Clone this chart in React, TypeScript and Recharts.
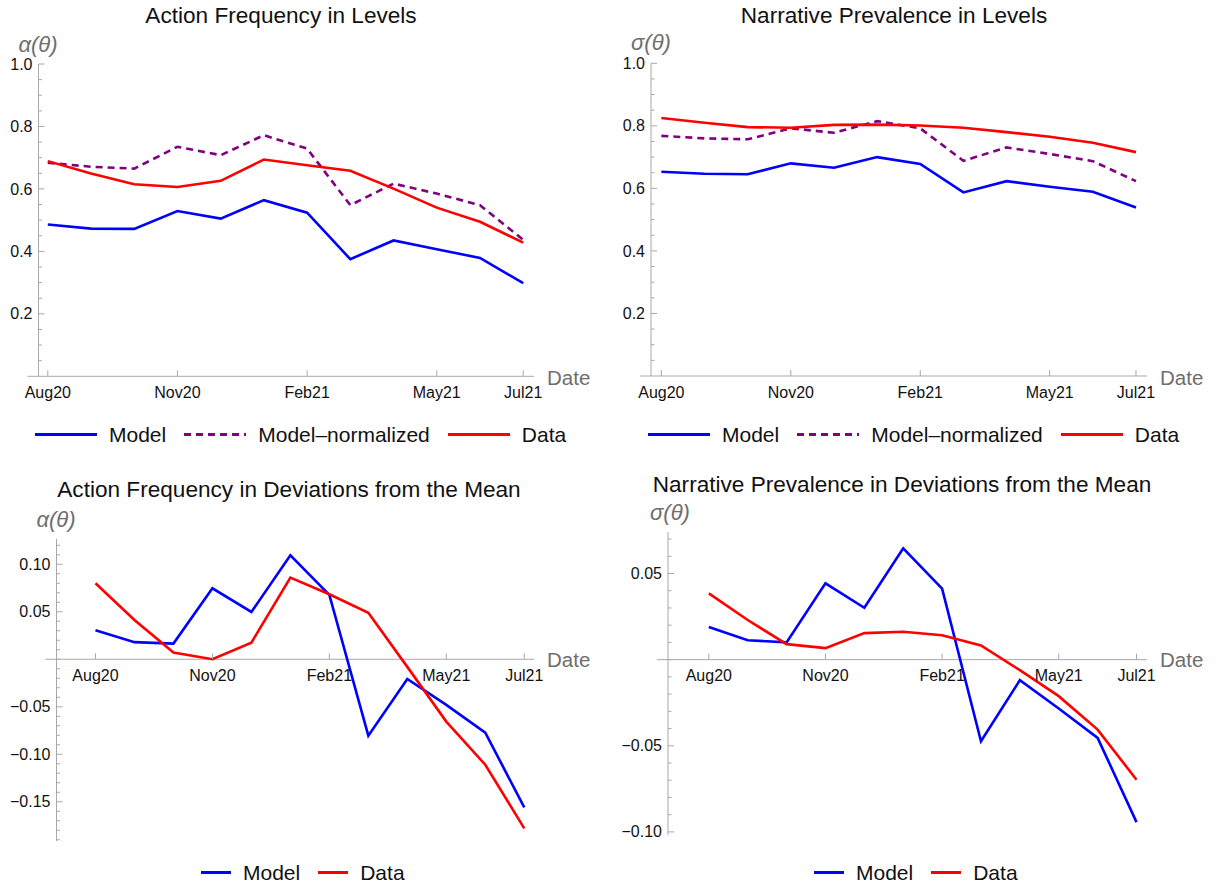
import React from 'react';
import { LineChart, Line, XAxis, YAxis, ReferenceLine, ReferenceDot } from 'recharts';

// monthly observations, Aug 2020 .. Jul 2021
const months = ['Aug20', 'Sep20', 'Oct20', 'Nov20', 'Dec20', 'Jan21', 'Feb21', 'Mar21', 'Apr21', 'May21', 'Jun21', 'Jul21'];
const dateTicks = [0, 3, 6, 9, 11];
const dateTickLabels = ['Aug20', 'Nov20', 'Feb21', 'May21', 'Jul21'];

// action frequency, levels
const actionModel = [0.486, 0.473, 0.472, 0.529, 0.505, 0.564, 0.524, 0.375, 0.435, 0.407, 0.379, 0.298];
const actionNormalized = [0.684, 0.671, 0.665, 0.735, 0.708, 0.772, 0.729, 0.548, 0.617, 0.585, 0.548, 0.437];
const actionData = [0.689, 0.649, 0.615, 0.606, 0.626, 0.694, 0.676, 0.658, 0.601, 0.540, 0.495, 0.428];

// narrative prevalence, levels
const narrativeModel = [0.653, 0.647, 0.645, 0.680, 0.666, 0.700, 0.678, 0.587, 0.623, 0.605, 0.589, 0.539];
const narrativeNormalized = [0.768, 0.760, 0.757, 0.792, 0.778, 0.815, 0.792, 0.688, 0.731, 0.710, 0.687, 0.623];
const narrativeData = [0.825, 0.810, 0.796, 0.794, 0.803, 0.804, 0.801, 0.794, 0.780, 0.765, 0.746, 0.716];

// deviations from the mean
const actionDevModel = [0.0305, 0.018, 0.0165, 0.0747, 0.0498, 0.1095, 0.0677, -0.0804, -0.0207, -0.048, -0.0772, -0.156];
const actionDevData = [0.080, 0.0414, 0.007, 0.0, 0.0175, 0.086, 0.0684, 0.049, -0.008, -0.0656, -0.111, -0.178];
const narrativeDevModel = [0.0189, 0.0113, 0.010, 0.0443, 0.0301, 0.0646, 0.0412, -0.0474, -0.0119, -0.0284, -0.0454, -0.0943];
const narrativeDevData = [0.0385, 0.023, 0.009, 0.0067, 0.0154, 0.0162, 0.0142, 0.0082, -0.0061, -0.0212, -0.0406, -0.0697];

// y tick marks
const levelTicks = [0.2, 0.4, 0.6, 0.8, 1.0];
const levelTickLabels = ['0.2', '0.4', '0.6', '0.8', '1.0'];
const actionDevTicks = [-0.15, -0.1, -0.05, 0.05, 0.1];
const actionDevTickLabels = ['\u22120.15', '\u22120.10', '\u22120.05', '0.05', '0.10'];
const narrativeDevTicks = [-0.1, -0.05, 0.05];
const narrativeDevTickLabels = ['\u22120.10', '\u22120.05', '0.05'];

const BLUE = '#0000ff';
const RED = '#ff0000';
const PURPLE = '#800080';
const AXIS = '#a8a8a8';
const LABEL_GRAY = '#6e6e6e';
const FONT = '"Liberation Sans", Arial, Helvetica, sans-serif';

type SeriesSpec = { name: string; values: number[]; color: string; dashed?: boolean };

function steps(lo: number, hi: number, step: number) {
  const out: number[] = [];
  const n = Math.round((hi - lo) / step);
  for (let i = 0; i <= n; i++) out.push(Math.round((lo + i * step) * 1000) / 1000);
  return out;
}

type PanelProps = {
  left: number;
  top: number;
  width: number;
  height: number;
  margin: { top: number; right: number; bottom: number; left: number };
  yAxisWidth: number;
  xDomain: [number, number];
  yDomain: [number, number];
  yMajor: number[];
  yLabels: string[];
  yMinor: number[];
  series: SeriesSpec[];
};

function Panel(p: PanelProps) {
  const rows = months.map((month, i) => {
    const row: Record<string, number | string> = { m: i, month };
    p.series.forEach((s, k) => {
      row['s' + k] = s.values[i];
    });
    return row;
  });

  const renderYTick = (props: any) => {
    const { x, y, payload } = props;
    const idx = p.yMajor.findIndex((t) => Math.abs(t - payload.value) < 1e-6);
    const major = idx >= 0;
    return (
      <g>
        <line x1={x} x2={x + (major ? 6 : 3.5)} y1={y} y2={y} stroke={AXIS} strokeWidth={1} />
        {major && (
          <text x={x - 6} y={y} dy="0.35em" textAnchor="end" fontSize={16} fill="#111" fontFamily={FONT}>
            {p.yLabels[idx]}
          </text>
        )}
      </g>
    );
  };

  // horizontal axis at zero, running a little past the vertical axis
  const axisShape = (props: any) => (
    <line x1={props.x1 - 11} y1={props.y1} x2={props.x2} y2={props.y2} stroke={AXIS} strokeWidth={1} />
  );

  const dateTick = (label: string) => (props: any) => (
    <g>
      <line x1={props.cx} x2={props.cx} y1={props.cy} y2={props.cy - 6} stroke={AXIS} strokeWidth={1} />
      <text x={props.cx} y={props.cy + 16} dy="0.35em" textAnchor="middle" fontSize={16} fill="#111" fontFamily={FONT}>
        {label}
      </text>
    </g>
  );

  return (
    <div style={{ position: 'absolute', left: p.left, top: p.top }}>
      <LineChart width={p.width} height={p.height} data={rows} margin={p.margin}>
        <XAxis type="number" dataKey="m" domain={p.xDomain} allowDataOverflow hide />
        <YAxis
          type="number"
          domain={p.yDomain}
          allowDataOverflow
          ticks={[...p.yMinor]}
          interval={0}
          width={p.yAxisWidth}
          tickSize={0}
          tickMargin={0}
          tickLine={false}
          axisLine={{ stroke: AXIS, strokeWidth: 1 }}
          tick={renderYTick}
        />
        <ReferenceLine y={0} stroke={AXIS} shape={axisShape} ifOverflow="visible" />
        {dateTicks.map((t, i) => (
          <ReferenceDot key={t} x={t} y={0} r={0} ifOverflow="visible" shape={dateTick(dateTickLabels[i])} />
        ))}
        {p.series.map((s, k) => (
          <Line
            key={s.name}
            type="linear"
            dataKey={'s' + k}
            name={s.name}
            stroke={s.color}
            strokeWidth={2.6}
            strokeDasharray={s.dashed ? '7 5' : undefined}
            dot={false}
            activeDot={false}
            isAnimationActive={false}
          />
        ))}
      </LineChart>
    </div>
  );
}

function Caption({ x, y, text, size, color = '#111', italic = false, anchor = 'center' }: {
  x: number; y: number; text: string; size: number; color?: string; italic?: boolean; anchor?: 'center' | 'left';
}) {
  return (
    <div
      style={{
        position: 'absolute',
        left: x,
        top: y,
        transform: anchor === 'center' ? 'translate(-50%, -50%)' : 'translate(0, -50%)',
        fontSize: size,
        lineHeight: 1,
        color,
        fontStyle: italic ? 'italic' : 'normal',
        whiteSpace: 'nowrap',
      }}
    >
      {text}
    </div>
  );
}

function LegendRow({ x, y, lineLength, items }: { x: number; y: number; lineLength: number; items: SeriesSpec[] }) {
  return (
    <div
      style={{
        position: 'absolute',
        left: x,
        top: y,
        transform: 'translateY(-50%)',
        display: 'flex',
        alignItems: 'center',
        fontSize: 21,
        lineHeight: 1,
        whiteSpace: 'nowrap',
      }}
    >
      {items.map((s) => (
        <div key={s.name} style={{ display: 'flex', alignItems: 'center', marginRight: 18 }}>
          <svg width={lineLength} height={6} style={{ display: 'block' }}>
            <line x1={0} x2={lineLength} y1={3} y2={3} stroke={s.color} strokeWidth={3} strokeDasharray={s.dashed ? '7 5' : undefined} />
          </svg>
          <span style={{ marginLeft: 12 }}>{s.name}</span>
        </div>
      ))}
    </div>
  );
}

export default function App() {
  const actionLevels: SeriesSpec[] = [
    { name: 'Model', values: actionModel, color: BLUE },
    { name: 'Model\u2013normalized', values: actionNormalized, color: PURPLE, dashed: true },
    { name: 'Data', values: actionData, color: RED },
  ];
  const narrativeLevels: SeriesSpec[] = [
    { name: 'Model', values: narrativeModel, color: BLUE },
    { name: 'Model\u2013normalized', values: narrativeNormalized, color: PURPLE, dashed: true },
    { name: 'Data', values: narrativeData, color: RED },
  ];
  const actionDev: SeriesSpec[] = [
    { name: 'Model', values: actionDevModel, color: BLUE },
    { name: 'Data', values: actionDevData, color: RED },
  ];
  const narrativeDev: SeriesSpec[] = [
    { name: 'Model', values: narrativeDevModel, color: BLUE },
    { name: 'Data', values: narrativeDevData, color: RED },
  ];

  return (
    <div
      style={{
        position: 'absolute',
        left: 0,
        top: 0,
        width: 1218,
        height: 883,
        background: '#fff',
        fontFamily: FONT,
        color: '#111',
        overflow: 'hidden',
      }}
    >
      <Panel
        left={0}
        top={0}
        width={609}
        height={460}
        margin={{ top: 64, right: 75, bottom: 83.7, left: 0.5 }}
        yAxisWidth={38}
        xDomain={[-0.215, 11.25]}
        yDomain={[0, 1]}
        yMajor={levelTicks}
        yLabels={levelTickLabels}
        yMinor={steps(0.05, 1.0, 0.05)}
        series={actionLevels}
      />
      <Panel
        left={609}
        top={0}
        width={609}
        height={460}
        margin={{ top: 63.3, right: 71, bottom: 84, left: 2 }}
        yAxisWidth={40}
        xDomain={[-0.24, 11.255]}
        yDomain={[0, 1]}
        yMajor={levelTicks}
        yLabels={levelTickLabels}
        yMinor={steps(0.05, 1.0, 0.05)}
        series={narrativeLevels}
      />
      <Panel
        left={0}
        top={460}
        width={609}
        height={423}
        margin={{ top: 79, right: 75, bottom: 42, left: 0.5 }}
        yAxisWidth={56}
        xDomain={[-1, 11.25]}
        yDomain={[-0.1913, 0.1266]}
        yMajor={actionDevTicks}
        yLabels={actionDevTickLabels}
        yMinor={steps(-0.19, 0.12, 0.01)}
        series={actionDev}
      />
      <Panel
        left={609}
        top={460}
        width={609}
        height={423}
        margin={{ top: 72, right: 71, bottom: 48, left: 1 }}
        yAxisWidth={58}
        xDomain={[-1.05, 11.27]}
        yDomain={[-0.1018, 0.0741]}
        yMajor={narrativeDevTicks}
        yLabels={narrativeDevTickLabels}
        yMinor={steps(-0.1, 0.07, 0.01)}
        series={narrativeDev}
      />

      <Caption x={281} y={16} text="Action Frequency in Levels" size={22.6} />
      <Caption x={894} y={16} text="Narrative Prevalence in Levels" size={22.6} />
      <Caption x={289} y={490} text="Action Frequency in Deviations from the Mean" size={22.6} />
      <Caption x={902} y={485} text="Narrative Prevalence in Deviations from the Mean" size={22.6} />

      <Caption x={38} y={45} text={'\u03b1(\u03b8)'} size={22} color={LABEL_GRAY} italic />
      <Caption x={651} y={43} text={'\u03c3(\u03b8)'} size={22} color={LABEL_GRAY} italic />
      <Caption x={56} y={520} text={'\u03b1(\u03b8)'} size={22} color={LABEL_GRAY} italic />
      <Caption x={670} y={513} text={'\u03c3(\u03b8)'} size={22} color={LABEL_GRAY} italic />

      <Caption x={547} y={378} text="Date" size={20.5} color={LABEL_GRAY} anchor="left" />
      <Caption x={1160} y={378} text="Date" size={20.5} color={LABEL_GRAY} anchor="left" />
      <Caption x={547} y={660} text="Date" size={20.5} color={LABEL_GRAY} anchor="left" />
      <Caption x={1160} y={660} text="Date" size={20.5} color={LABEL_GRAY} anchor="left" />

      <LegendRow x={35} y={434} lineLength={62} items={actionLevels} />
      <LegendRow x={648} y={434} lineLength={62} items={narrativeLevels} />
      <LegendRow x={201} y={872} lineLength={30} items={actionDev} />
      <LegendRow x={814} y={872} lineLength={30} items={narrativeDev} />
    </div>
  );
}
